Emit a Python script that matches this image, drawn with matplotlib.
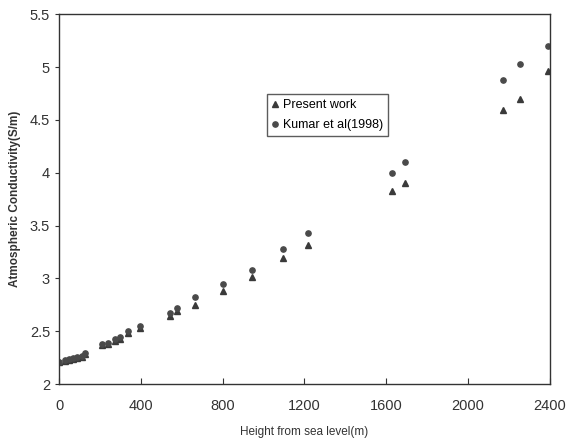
import numpy as np
import matplotlib
matplotlib.use("Agg")
import matplotlib.pyplot as plt

plt.rcParams['font.family'] = ['Liberation Sans', 'DejaVu Sans']

# heights (m)
height = [0, 30, 50, 70, 90, 110, 128, 212, 237, 272, 296, 336, 395,
          543, 575, 667, 800, 943, 1097, 1215, 1630, 1694, 2173, 2252, 2390]

# present work (triangles)
present = [2.21, 2.22, 2.23, 2.24, 2.25, 2.26, 2.28, 2.37, 2.38, 2.41, 2.43, 2.48, 2.53,
           2.64, 2.69, 2.75, 2.88, 3.01, 3.19, 3.32, 3.83, 3.90, 4.59, 4.70, 4.96]

# Kumar et al (1998) (circles)
kumar = [2.21, 2.23, 2.24, 2.25, 2.26, 2.27, 2.29, 2.38, 2.39, 2.43, 2.45, 2.50, 2.55,
         2.67, 2.72, 2.82, 2.95, 3.08, 3.28, 3.43, 4.00, 4.10, 4.88, 5.03, 5.20]

fig = plt.figure(figsize=(5.68, 4.43), dpi=100)
ax = fig.add_axes([0.104, 0.133, 0.864, 0.835])

ax.plot(height, present, linestyle='none', marker='^', markersize=4.5,
        color='#3a3a3a', label='Present work')
ax.plot(height, kumar, linestyle='none', marker='o', markersize=3.8,
        color='#4a4a4a', label='Kumar et al(1998)')

ax.set_xlim(0, 2400)
ax.set_ylim(2, 5.5)
ax.set_xticks(np.arange(0, 2401, 400))
ax.set_yticks(np.arange(2, 5.51, 0.5))
ax.set_yticklabels(['2', '2.5', '3', '3.5', '4', '4.5', '5', '5.5'])

ax.tick_params(axis='x', direction='in', length=4, labelsize=10.5, pad=11, colors='#333333')
ax.tick_params(axis='y', direction='out', length=3, labelsize=10.5, colors='#333333')
for s in ax.spines.values():
    s.set_linewidth(1.0)
    s.set_color('#333333')

ax.set_xlabel('Height from sea level(m)', fontsize=8.5, color='#333333', labelpad=9)
ax.set_ylabel('Atmospheric Conductivity(S/m)', fontsize=8.5, color='#333333',
              labelpad=6, fontweight='bold')

leg = ax.legend(loc='upper left', bbox_to_anchor=(0.41, 0.80), fontsize=9,
                frameon=True, fancybox=False, handlelength=0.6, handletextpad=0.3,
                borderpad=0.4, labelspacing=0.6, markerscale=1.0)
leg.get_frame().set_edgecolor('#333333')
leg.get_frame().set_linewidth(1.0)

plt.savefig('out.png', dpi=100)
